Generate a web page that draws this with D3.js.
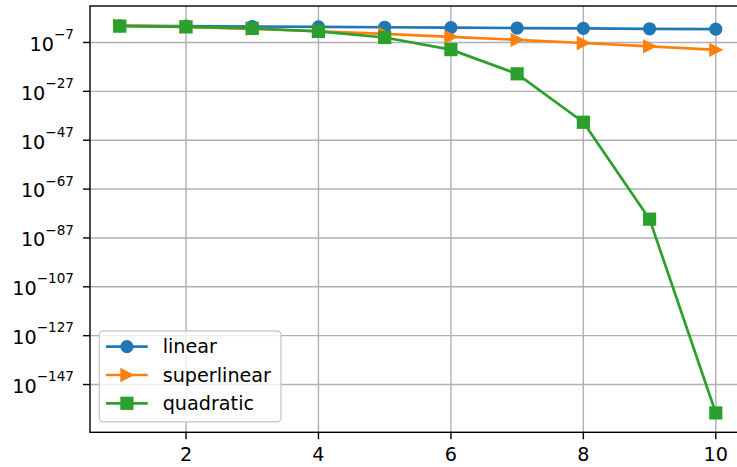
<!DOCTYPE html>
<html>
<head>
<meta charset="utf-8">
<script src="https://cdn.jsdelivr.net/npm/d3@7"></script>
<style>
  html, body { margin: 0; padding: 0; background: #fff; }
  svg { display: block; font-family: "DejaVu Sans", sans-serif; }
</style>
</head>
<body>
<svg id="chart" width="737" height="467"></svg>
<script>
// Error per iteration for three convergence orders
const iterations = [1, 2, 3, 4, 5, 6, 7, 8, 9, 10];
const linear = [0.7, 0.49, 0.343, 0.2401, 0.168, 0.118, 0.0824, 0.0576, 0.0404, 0.0282];
const superlinear = [1, 0.25, 3.7e-2, 3.9e-3, 3.2e-4, 2.1e-5, 1.2e-6, 6.0e-8, 2.6e-9, 1e-10];
const quadratic = [0.49, 0.24, 0.0576, 3.3e-3, 1.1e-5, 1.2e-10, 1.5e-20, 2.2e-40, 4.9e-80, 2.4e-159];

const seriesNames = ["linear", "superlinear", "quadratic"];
const seriesColors = ["#1f77b4", "#ff7f0e", "#2ca02c"];
const seriesMarkers = ["circle", "triangle", "square"];

const xTicks = [2, 4, 6, 8, 10];
const yTickExponents = [-7, -27, -47, -67, -87, -107, -127, -147];

const svg = d3.select("#chart");
const plot = { left: 90, top: 6, right: 745.6, bottom: 432.3 };
const FONT = 19.2;

// x domain with 5% padding each side
const [xmin, xmax] = d3.extent(iterations);
const xpad = (xmax - xmin) * 0.05;
const x = d3.scaleLinear().domain([xmin - xpad, xmax + xpad]).range([plot.left, plot.right]);

// y domain: log scale, 5% padding in decades
const allVals = linear.concat(superlinear, quadratic);
const lo = Math.log10(d3.min(allVals)), hi = Math.log10(d3.max(allVals));
const ypad = (hi - lo) * 0.05;
const y = d3.scaleLog().domain([Math.pow(10, lo - ypad), Math.pow(10, hi + ypad)]).range([plot.bottom, plot.top]);

const clipId = "plotclip";
svg.append("clipPath").attr("id", clipId).append("rect")
  .attr("x", plot.left).attr("y", plot.top)
  .attr("width", plot.right - plot.left).attr("height", plot.bottom - plot.top);

// grid
const grid = svg.append("g").attr("stroke", "#b0b0b0").attr("stroke-width", 1.4);
xTicks.forEach(t => grid.append("line")
  .attr("x1", x(t)).attr("x2", x(t)).attr("y1", plot.top).attr("y2", plot.bottom));
yTickExponents.forEach(e => grid.append("line")
  .attr("x1", plot.left).attr("x2", plot.right).attr("y1", y(Math.pow(10, e))).attr("y2", y(Math.pow(10, e))));

// series
const series = [linear, superlinear, quadratic];
const lineGen = d3.line().x((d, i) => x(iterations[i])).y(d => y(d));

function drawMarker(g, kind, cx, cy, color) {
  const s = 11.4;
  if (kind === "circle") {
    g.append("circle").attr("cx", cx).attr("cy", cy).attr("r", s / 2)
      .attr("fill", color).attr("stroke", color).attr("stroke-width", 1.8);
  } else if (kind === "square") {
    g.append("rect").attr("x", cx - s / 2).attr("y", cy - s / 2).attr("width", s).attr("height", s)
      .attr("fill", color).attr("stroke", color).attr("stroke-width", 1.8);
  } else {
    const pts = [[cx + s / 2, cy], [cx - s / 2, cy - s / 2], [cx - s / 2, cy + s / 2]];
    g.append("polygon").attr("points", pts.map(p => p.join(",")).join(" "))
      .attr("fill", color).attr("stroke", color).attr("stroke-width", 1.8)
      .attr("stroke-linejoin", "miter");
  }
}

const dataLayer = svg.append("g").attr("clip-path", `url(#${clipId})`);
series.forEach((vals, k) => {
  const g = dataLayer.append("g");
  g.append("path").datum(vals).attr("d", lineGen)
    .attr("fill", "none").attr("stroke", seriesColors[k]).attr("stroke-width", 2.7)
    .attr("stroke-linejoin", "round").attr("stroke-linecap", "square");
  vals.forEach((v, i) => drawMarker(g, seriesMarkers[k], x(iterations[i]), y(v), seriesColors[k]));
});

// spines
const spines = svg.append("g").attr("stroke", "#000").attr("stroke-width", 1.4).attr("fill", "none");
spines.append("rect").attr("x", plot.left).attr("y", plot.top)
  .attr("width", plot.right - plot.left).attr("height", plot.bottom - plot.top);

// x axis ticks and labels
const xAxis = svg.append("g");
xTicks.forEach(t => {
  xAxis.append("line").attr("x1", x(t)).attr("x2", x(t))
    .attr("y1", plot.bottom).attr("y2", plot.bottom + 7).attr("stroke", "#000").attr("stroke-width", 1.4);
  xAxis.append("text").attr("x", x(t)).attr("y", 461).attr("text-anchor", "middle")
    .attr("font-size", FONT).attr("fill", "#000").text(t);
});

// y axis ticks and labels (powers of ten)
const yAxis = svg.append("g");
yTickExponents.forEach(e => {
  const ty = y(Math.pow(10, e));
  yAxis.append("line").attr("x1", plot.left - 7).attr("x2", plot.left)
    .attr("y1", ty).attr("y2", ty).attr("stroke", "#000").attr("stroke-width", 1.4);
  const txt = yAxis.append("text").attr("x", 74).attr("y", ty + 8.3)
    .attr("text-anchor", "end").attr("font-size", FONT).attr("fill", "#000");
  txt.append("tspan").text("10");
  txt.append("tspan").attr("dy", -11.7).attr("font-size", 13.6).text("\u2212" + Math.abs(e));
});

// legend
const legend = svg.append("g");
legend.append("rect").attr("x", 99.3).attr("y", 331).attr("width", 181.7).attr("height", 90.7)
  .attr("rx", 3.6).attr("ry", 3.6)
  .attr("fill", "#fff").attr("fill-opacity", 0.8)
  .attr("stroke", "#cccccc").attr("stroke-width", 1.4);
seriesNames.forEach((name, k) => {
  const cy = 346.7 + k * 28.3;
  legend.append("line").attr("x1", 106).attr("x2", 147.7).attr("y1", cy).attr("y2", cy)
    .attr("stroke", seriesColors[k]).attr("stroke-width", 2.7);
  drawMarker(legend, seriesMarkers[k], 126.9, cy, seriesColors[k]);
  legend.append("text").attr("x", 162.7).attr("y", cy + 6.6)
    .attr("font-size", FONT).attr("fill", "#000").text(name);
});
</script>
</body>
</html>
